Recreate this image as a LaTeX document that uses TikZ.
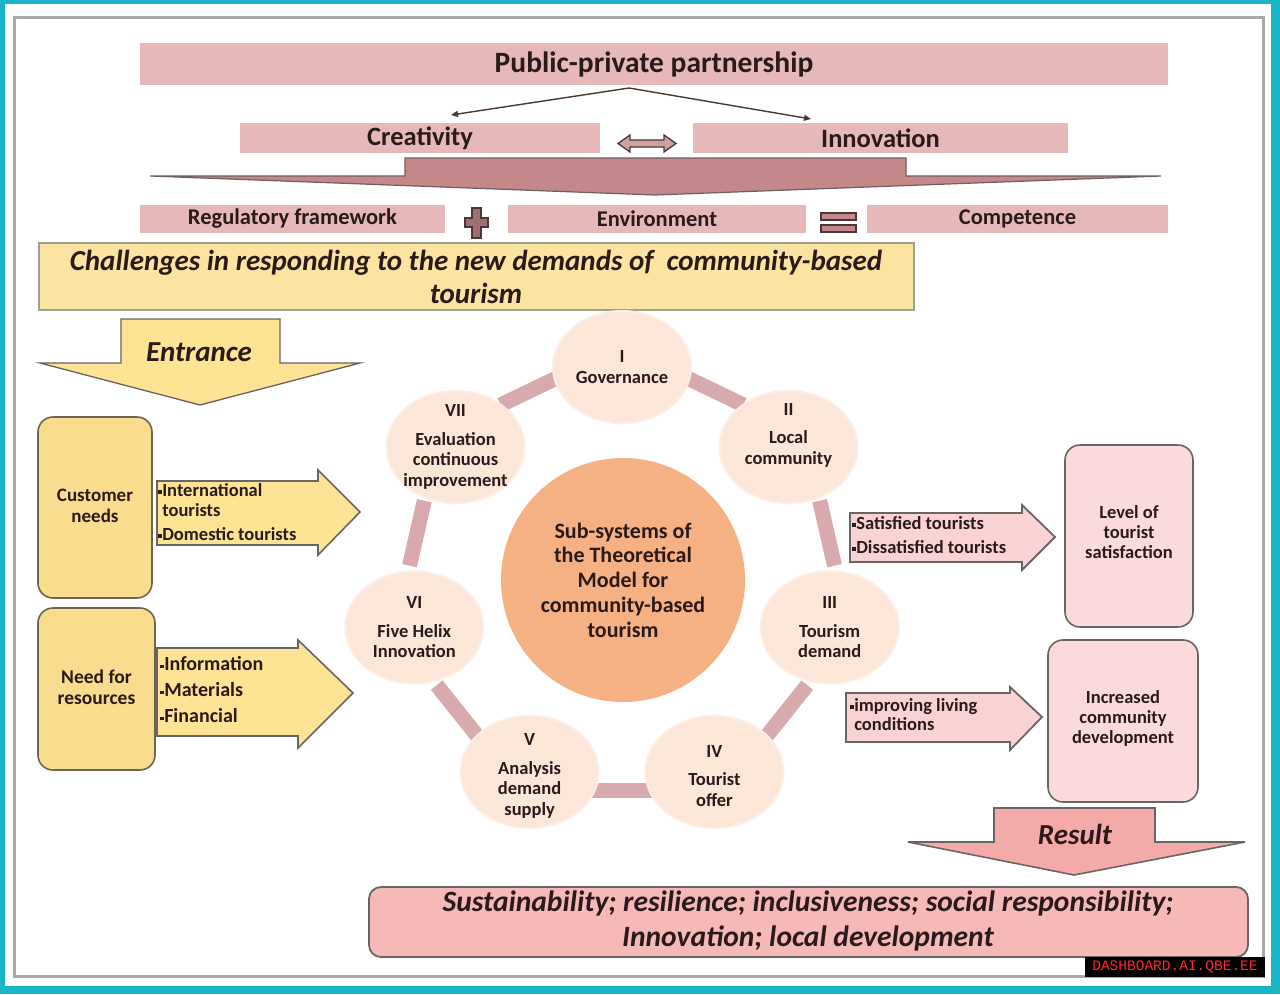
\documentclass[tikz,border=0pt]{standalone}
\usepackage{fontspec}
\setmainfont{Carlito}
\newfontfamily\wmfont{Liberation Mono}
\usetikzlibrary{shapes.geometric,arrows.meta}
\definecolor{cyanB}{HTML}{17B5C6}
\definecolor{frameG}{HTML}{A9A9A9}
\definecolor{barpink}{HTML}{E6B9B8}
\definecolor{bigarrow}{HTML}{C4878A}
\definecolor{darkbr}{HTML}{4B3737}
\definecolor{txt}{HTML}{2A1A1A}
\definecolor{chyel}{HTML}{FBE4A2}
\definecolor{chbord}{HTML}{9AA38E}
\definecolor{entyel}{HTML}{FDE394}
\definecolor{boxyel}{HTML}{F9DC8E}
\definecolor{boxbord}{HTML}{6B6651}
\definecolor{ringc}{HTML}{D9AAAD}
\definecolor{satfill}{HTML}{FCE6D8}
\definecolor{centfill}{HTML}{F5B183}
\definecolor{rarrow}{HTML}{F9D3D4}
\definecolor{rbox}{HTML}{FBDADB}
\definecolor{greyb}{HTML}{6A6565}
\definecolor{resarrow}{HTML}{F5AAAA}
\definecolor{botbox}{HTML}{F7B8B8}
\definecolor{wmred}{HTML}{FF2A2A}
\newcommand\fs[2]{\fontsize{#1}{#2}\selectfont}
\newcommand\bl{\raisebox{0.28ex}{\rule{3.6pt}{3.6pt}}\kern0.5pt}
\newcommand\blp{\phantom{\bl}}
\tikzset{
  bar/.style={fill=barpink, inner sep=0, text=txt, font=\bfseries\fs{22.5}{26}},
  conn/.style={draw=darkbr, line width=1.4, -{Triangle[length=7,width=6]}},
  sat/.style={ellipse, fill=satfill, draw=satfill!70, line width=2, minimum width=138, minimum height=112, inner sep=0},
  sattxt/.style={align=center, inner sep=0, font=\bfseries\fs{18.5}{20.5}, text=txt},
  ringseg/.style={draw=ringc, line width=15},
  lbox/.style={draw=boxbord, line width=1.6, fill=boxyel, rounded corners=15},
  rboxs/.style={draw=greyb, line width=1.6, fill=rbox, rounded corners=15},
  lbl/.style={text=txt, font=\bfseries\fs{19}{21}, align=center, inner sep=0},
  blt/.style={text=txt, font=\bfseries\fs{18.5}{20}, align=left, inner sep=0, anchor=west},
  bi/.style={text=txt, font=\bfseries\itshape\fs{29}{33}, align=center, inner sep=0},
}
\begin{document}
\begin{tikzpicture}[x=1pt,y=-1pt]
\useasboundingbox (0,0) rectangle (1280,994);
\fill[cyanB] (0,0) rectangle (1280,994);
\fill[white] (5,4) rectangle (1271,986);
\draw[frameG, line width=3] (14,17) rectangle (1263,976);

% top bars
\node[bar, minimum width=1028, minimum height=42, font=\bfseries\fs{29.5}{32}] (ppp) at (654,64) {Public-private partnership};
\node[bar, minimum width=360, minimum height=30, font=\bfseries\fs{26.5}{28}] (cre) at (420,138) {Creativity};
\node[bar, minimum width=375, minimum height=30, font=\bfseries\fs{26.5}{28}] (inn) at (880.5,138) {Innovation};
\coordinate (apex) at (629,88);
\coordinate (creT) at (451,115);
\coordinate (innT) at (811,119);
\draw[conn] (apex) -- (creT);
\draw[conn] (apex) -- (innT);
% double arrow
\filldraw[fill=bigarrow!80, draw=darkbr, line width=1.3]
  (618,143.5) -- (630,135) -- (630,140) -- (664,140) -- (664,135) -- (676,143.5)
  -- (664,152) -- (664,147) -- (630,147) -- (630,152) -- cycle;
% big down arrow
\filldraw[fill=bigarrow, draw=darkbr!80, line width=1.2]
  (405,158) -- (906,158) -- (906,176) -- (1161,176) -- (655,195) -- (150,176) -- (405,176) -- cycle;

% row 3
\node[bar, minimum width=305, minimum height=28] (reg) at (292.5,219) {Regulatory framework};
\node[bar, minimum width=298, minimum height=28] (env) at (657,219) {Environment};
\node[bar, minimum width=301, minimum height=28] (com) at (1017.5,219) {Competence};
\filldraw[fill=bigarrow!70!darkbr, draw=darkbr, line width=1.2]
  (472,208) -- (481,208) -- (481,218) -- (488,218) -- (488,227) -- (481,227) -- (481,238)
  -- (472,238) -- (472,227) -- (465,227) -- (465,218) -- (472,218) -- cycle;
\filldraw[fill=bigarrow, draw=darkbr, line width=1.6] (821,213) rectangle (856,220);
\filldraw[fill=bigarrow, draw=darkbr, line width=1.6] (821,225) rectangle (856,232);

% challenges
\node[draw=chbord, line width=1.8, fill=chyel, minimum width=875, minimum height=67, inner sep=0] (chal) at (476.5,276.5) {};
\node[bi] (chalt) at (476,277) {Challenges in responding to the new demands of \ community-based\\tourism};

% entrance arrow
\filldraw[fill=entyel, draw=darkbr!80, line width=1.3]
  (121,319) -- (280,319) -- (280,363) -- (360,363) -- (200,405) -- (40,363) -- (121,363) -- cycle;
\node[bi] (ent) at (199,352) {Entrance};

% left boxes
\node[lbox, minimum width=114, minimum height=181] (cust) at (95,507.5) {};
\node[lbl] (custt) at (95,505.5) {Customer\\needs};
\filldraw[fill=entyel, draw=greyb, line width=1.6]
  (157,481) -- (318,481) -- (318,470) -- (360,512) -- (318,555) -- (318,545) -- (157,545) -- cycle;
\node[blt] (ct) at (158,512) {\bl International\\\blp tourists\\[4pt]\bl Domestic tourists};

\node[lbox, minimum width=117, minimum height=162] (res) at (96.5,689) {};
\node[lbl, font=\bfseries\fs{19.5}{21}] (rest) at (96.5,687.5) {Need for\\resources};
\filldraw[fill=entyel, draw=greyb, line width=1.6]
  (157,648) -- (298,648) -- (298,640) -- (353,693) -- (298,748) -- (298,736) -- (157,736) -- cycle;
\node[blt, font=\bfseries\fs{20}{26}] (rt) at (160,690) {\bl Information\\\bl Materials\\\bl Financial};

% ring connectors
\foreach \m in {64.29,12.86,-38.57,-90,-141.43,167.14,115.71}{
  \draw[ringseg] ({622+213*cos(\m-9)},{580-213*sin(\m-9)}) -- ({622+213*cos(\m+9)},{580-213*sin(\m+9)});
}
% satellites
\node[sat] (s1) at (622,367) {};
\node[sat] (s2) at (788.5,447) {};
\node[sat] (s3) at (829.7,627.4) {};
\node[sat] (s4) at (714.4,771.9) {};
\node[sat] (s5) at (529.6,771.9) {};
\node[sat] (s6) at (414.3,627.4) {};
\node[sat] (s7) at (455.5,447) {};
\node[sattxt] (s1t) at (s1) {I\\Governance};
\node[sattxt, yshift=12] (s2t) at (s2) {II\\[8pt]Local\\community};
\node[sattxt] (s3t) at (s3) {III\\[8pt]Tourism\\demand};
\node[sattxt, yshift=-4] (s4t) at (s4) {IV\\[8pt]Tourist\\offer};
\node[sattxt, yshift=-4] (s5t) at (s5) {V\\[8pt]Analysis\\demand\\supply};
\node[sattxt] (s6t) at (s6) {VI\\[8pt]Five Helix\\Innovation};
\node[sattxt] (s7t) at (s7) {VII\\[8pt]Evaluation\\continuous\\improvement};
\node[circle, fill=centfill, minimum size=244, inner sep=0, align=center, text=txt, font=\bfseries\fs{22}{24.75}] (cen) at (623,580) {Sub-systems of\\the Theoretical\\Model for\\community-based\\tourism};

% right side
\filldraw[fill=rarrow, draw=greyb, line width=1.8]
  (850,513) -- (1022,513) -- (1022,505) -- (1055,537) -- (1022,570) -- (1022,562) -- (850,562) -- cycle;
\node[blt, font=\bfseries\fs{18.5}{24}] (st) at (852,535) {\bl Satisfied tourists\\\bl Dissatisfied tourists};
\node[rboxs, minimum width=128, minimum height=182] (lev) at (1129,536) {};
\node[lbl, font=\bfseries\fs{18.5}{20}] (levt) at (1129,532) {Level of\\tourist\\satisfaction};

\filldraw[fill=rarrow, draw=greyb, line width=1.8]
  (846,693) -- (1010,693) -- (1010,687) -- (1042,717) -- (1010,750) -- (1010,742) -- (846,742) -- cycle;
\node[blt, font=\bfseries\fs{18.5}{19.5}] (lt) at (850,714.5) {\bl improving living\\\blp conditions};
\node[rboxs, minimum width=150, minimum height=162] (inc) at (1123,721) {};
\node[lbl, font=\bfseries\fs{18.5}{20}] (inct) at (1123,718) {Increased\\community\\development};

% result arrow
\filldraw[fill=resarrow, draw=greyb, line width=1.6]
  (994,808) -- (1155,808) -- (1155,842) -- (1245,842) -- (1074,875) -- (908,842) -- (994,842) -- cycle;
\node[bi] (resl) at (1075,834) {Result};

% bottom box
\node[draw=greyb, line width=1.8, fill=botbox, rounded corners=12, minimum width=879, minimum height=70, inner sep=0] (bot) at (808.5,922) {};
\node[bi, font=\bfseries\itshape\fs{29.5}{35}] (bott) at (808,921) {Sustainability; resilience; inclusiveness; social responsibility;\\Innovation; local development};

% watermark
\node[fill=black, minimum width=180, minimum height=20, inner sep=0, text=wmred, font=\wmfont\fs{14.5}{16}] (wm) at (1175,967) {DASHBOARD.AI.QBE.EE};
\end{tikzpicture}
\end{document}
